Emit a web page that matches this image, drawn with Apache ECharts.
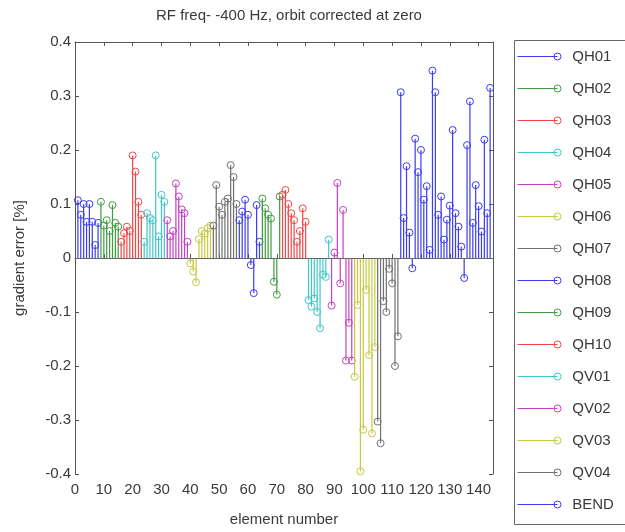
<!DOCTYPE html>
<html>
<head>
<meta charset="utf-8">
<script src="https://cdn.jsdelivr.net/npm/echarts@6/dist/echarts.min.js"></script>
<style>html,body{margin:0;padding:0;background:#fff;}#c{width:625px;height:532px;}</style>
</head>
<body>
<div id="c"></div>
<script>
const seriesNames = ['QH01','QH02','QH03','QH04','QH05','QH06','QH07','QH08','QH09','QH10','QV01','QV02','QV03','QV04','BEND'];
const seriesStarts = [1, 9, 16, 24, 32, 40, 48, 57, 65, 72, 81, 89, 97, 105, 113];
const qh01 = [0.107, 0.08, 0.10, 0.067, 0.10, 0.067, 0.024, 0.065];
const qh02 = [0.104, 0.06, 0.07, 0.05, 0.098, 0.065, 0.058];
const qh03 = [0.03, 0.046, 0.058, 0.05, 0.19, 0.16, 0.104, 0.08];
const qh04 = [0.03, 0.083, 0.074, 0.07, 0.19, 0.04, 0.117, 0.104];
const qh05 = [0.07, 0.04, 0.05, 0.138, 0.114, 0.09, 0.083, 0.03];
const qh06 = [-0.01, -0.025, -0.045, 0.035, 0.05, 0.045, 0.055, 0.06];
const qh07 = [0.06, 0.135, 0.095, 0.08, 0.104, 0.11, 0.172, 0.15, 0.10];
const qh08 = [0.07, 0.086, 0.108, 0.08, -0.013, -0.065, 0.098, 0.03];
const qh09 = [0.11, 0.092, 0.08, 0.073, -0.044, -0.068, 0.114];
const qh10 = [0.117, 0.126, 0.10, 0.083, 0.07, 0.03, 0.05, 0.092, 0.067];
const qv01 = [-0.078, -0.09, -0.075, -0.10, -0.13, -0.031, -0.035, 0.034];
const qv02 = [-0.088, 0.01, 0.139, -0.047, 0.089, -0.19, -0.12, -0.19];
const qv03 = [-0.22, -0.087, -0.395, -0.318, -0.059, -0.18, -0.325, -0.165];
const qv04 = [-0.303, -0.343, -0.08, -0.10, -0.02, -0.047, -0.20, -0.145];
const bend = [0.307, 0.074, 0.17, 0.047, -0.019, 0.221, 0.159, 0.20, 0.108, 0.133, 0.015, 0.347, 0.307, 0.080, 0.114, 0.034, 0.071, 0.097, 0.237, 0.083, 0.058, 0.021, -0.037, 0.209, 0.29, 0.065, 0.135, 0.096, 0.049, 0.219, 0.083, 0.315];
const seriesValues = [qh01, qh02, qh03, qh04, qh05, qh06, qh07, qh08, qh09, qh10, qv01, qv02, qv03, qv04, bend];
const xTicks = [0, 10, 20, 30, 40, 50, 60, 70, 80, 90, 100, 110, 120, 130, 140];

const colors = ['#3c3cf0','#3f9c3f','#f24646','#3fc6c6','#c440c4','#c8c842','#707070',
                '#3c3cf0','#3f9c3f','#f24646','#3fc6c6','#c440c4','#c8c842','#707070','#3c3cf0'];

const FONT = 'Liberation Sans';
const TXT = '#3a3a3a';
const AX = '#555';
const FS = 15;

function stemItem(params, api) {
  const x = api.value(0), v = api.value(1);
  const p0 = api.coord([x, 0]);
  const p1 = api.coord([x, v]);
  const c = api.visual('color');
  return {
    type: 'group',
    children: [
      {type: 'line', shape: {x1: p0[0], y1: p0[1], x2: p1[0], y2: p1[1]}, style: {stroke: c, lineWidth: 1.2}},
      {type: 'circle', shape: {cx: p1[0], cy: p1[1], r: 3.5}, style: {fill: 'none', stroke: c, lineWidth: 1}}
    ]
  };
}

const series = seriesNames.map((name, i) => ({
  name: name,
  type: 'custom',
  renderItem: stemItem,
  itemStyle: {color: colors[i]},
  data: seriesValues[i].map((v, k) => [seriesStarts[i] + k, v]),
  z: 3
}));
series[0].markLine = {
  silent: true, symbol: ['none','none'], label: {show: false},
  lineStyle: {color: '#666', type: 'solid', width: 1},
  data: [{yAxis: 0}]
};

const legendIcon = 'path://M0,3.5L40,3.5M43.5,3.5A3.5,3.5,0,1,1,36.5,3.5A3.5,3.5,0,1,1,43.5,3.5';

const chart = echarts.init(document.getElementById('c'), null, {renderer: 'canvas'});
chart.setOption({
  animation: false,
  backgroundColor: '#fff',
  title: {
    text: 'RF freq- -400 Hz, orbit corrected at zero',
    left: 284, top: 3, textAlign: 'center',
    textStyle: {fontFamily: FONT, fontSize: FS, fontWeight: 'normal', color: TXT}
  },
  legend: {
    orient: 'vertical', left: 517, top: 49, padding: 0,
    itemWidth: 44, itemHeight: 7, itemGap: 17,
    data: seriesNames.map((n, i) => ({
      name: n, icon: legendIcon,
      itemStyle: {color: 'rgba(0,0,0,0)', borderColor: colors[i], borderWidth: 1}
    })),
    textStyle: {fontFamily: FONT, fontSize: FS, color: TXT, lineHeight: 15, padding: [0, 0, 0, 6]}
  },
  graphic: [{
    type: 'rect', left: 512, top: 38, silent: true,
    shape: {width: 130, height: 484},
    style: {fill: 'none', stroke: '#666', lineWidth: 1}
  }],
  grid: {left: 75, right: 132, top: 42, bottom: 58},
  xAxis: [{
    type: 'value', min: 0, max: 145, interval: 10,
    name: 'element number', nameLocation: 'middle', nameGap: 38,
    nameTextStyle: {fontFamily: FONT, fontSize: FS, color: TXT},
    axisLine: {show: true, lineStyle: {color: AX}},
    axisTick: {show: true, inside: true, length: 4, lineStyle: {color: AX}},
    axisLabel: {fontFamily: FONT, fontSize: FS, color: TXT, margin: 8, showMaxLabel: false, hideOverlap: false,
      formatter: v => (xTicks.indexOf(v) >= 0 ? String(v) : '')},
    splitLine: {show: false}
  }, {
    type: 'value', min: 0, max: 145, interval: 10, position: 'top',
    axisLine: {show: true, onZero: false, lineStyle: {color: AX}},
    axisTick: {show: true, inside: true, length: 4, lineStyle: {color: AX}},
    axisLabel: {show: false}, splitLine: {show: false}
  }],
  yAxis: [{
    type: 'value', min: -0.4, max: 0.4, interval: 0.1,
    name: 'gradient error [%]', nameLocation: 'middle', nameGap: 48,
    nameTextStyle: {fontFamily: FONT, fontSize: FS, color: TXT},
    axisLine: {show: true, onZero: false, lineStyle: {color: AX}},
    axisTick: {show: true, inside: true, length: 4, lineStyle: {color: AX}},
    axisLabel: {fontFamily: FONT, fontSize: FS, color: TXT, margin: 4,
      formatter: v => String(Math.round(v * 10) / 10)},
    splitLine: {show: false}
  }, {
    type: 'value', min: -0.4, max: 0.4, interval: 0.1, position: 'right',
    axisLine: {show: true, onZero: false, lineStyle: {color: AX}},
    axisTick: {show: true, inside: true, length: 4, lineStyle: {color: AX}},
    axisLabel: {show: false}, splitLine: {show: false}
  }],
  series: series
});
</script>
</body>
</html>
